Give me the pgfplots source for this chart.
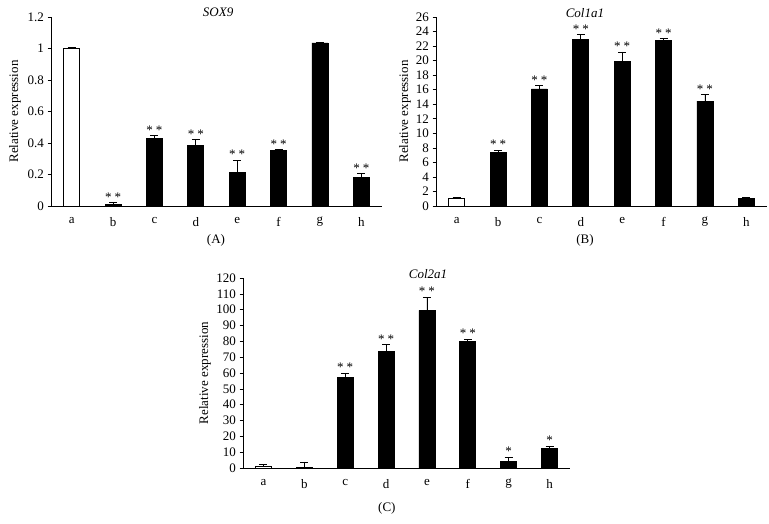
\documentclass[border=0pt]{standalone}
\usepackage{fontspec}
\setmainfont{Liberation Serif}
\usepackage{pgfplots}
\pgfplotsset{compat=1.18}

\pgfplotsset{
  panel/.style={
    scale only axis,
    axis x line*=bottom, axis y line*=left,
    axis line style={black, line width=0.6pt},
    xmin=-0.5, xmax=7.5, ymin=0,
    xtick={0,...,7}, xticklabels={a,b,c,d,e,f,g,h},
    x tick style={draw=none},
    minor xtick={0.5,1.5,...,6.5},
    minor x tick style={black, line width=0.6pt},
    y tick style={black, line width=0.6pt},
    tick align=outside, major tick length=3.5pt, minor tick length=3.5pt,
    ticklabel style={font=\fontsize{13}{15}\selectfont},
    xticklabel style={yshift=-4pt},
    /pgf/number format/assume math mode=true,
    label style={font=\fontsize{13}{15}\selectfont},
    ylabel={Relative expression},
    clip=false,
  },
  bars/.style={ybar, bar width=16pt, bar shift=0pt, draw=black, line width=0.7pt,
    error bars/y dir=plus, error bars/y explicit,
    error bars/error mark=|,
    error bars/error bar style={black, line width=0.8pt},
    error bars/error mark options={black, mark size=4pt, line width=0.8pt}},
  stars/.style={draw=none, mark=none, nodes near coords, point meta=explicit symbolic,
    nodes near coords style={anchor=base, inner sep=0pt, yshift=1.5pt,
      font=\fontsize{13}{15}\selectfont}},
}

\begin{document}
\begin{tikzpicture}
\useasboundingbox (0,0) rectangle (769pt,523pt);

% (A) SOX9
\begin{axis}[panel, at={(51pt,317pt)}, anchor=south west,
  width=331pt, height=189pt, ymax=1.2, ytick={0,0.2,...,1.2},
  ylabel style={at={(axis description cs:-0.109,0.5)}, anchor=center},
  xlabel={(A)}, xlabel style={at={(axis description cs:0.4985,-0.18)}, anchor=center}]
\addplot[bars, fill=white] coordinates {(0,1.00) +- (0,0.005)};
\addplot[bars, fill=black] coordinates {
  (1,0.010) +- (0,0.011) (2,0.429) +- (0,0.017) (3,0.382) +- (0,0.038)
  (4,0.215) +- (0,0.075) (5,0.355) +- (0,0.003) (6,1.035) +- (0,0.006)
  (7,0.184) +- (0,0.021)};
\addplot[stars] coordinates {
  (1,0.021) [*\hspace{3pt}*] (2,0.446) [*\hspace{3pt}*] (3,0.420) [*\hspace{3pt}*]
  (4,0.290) [*\hspace{3pt}*] (5,0.358) [*\hspace{3pt}*] (7,0.205) [*\hspace{3pt}*]};
\node[anchor=base, font=\itshape\fontsize{13}{15}\selectfont] at (axis description cs:0.505,1.0) {SOX9};
\end{axis}

% (B) Col1a1
\begin{axis}[panel, at={(436pt,317pt)}, anchor=south west,
  width=331pt, height=189pt, ymax=26, ytick={0,2,...,26},
  ylabel style={at={(axis description cs:-0.094,0.5)}, anchor=center},
  xlabel={(B)}, xlabel style={at={(axis description cs:0.45,-0.18)}, anchor=center}]
\addplot[bars, fill=white] coordinates {(0,1.05) +- (0,0.10)};
\addplot[bars, fill=black] coordinates {
  (1,7.32) +- (0,0.32) (2,16.10) +- (0,0.47) (3,22.90) +- (0,0.67)
  (4,19.86) +- (0,1.33) (5,22.75) +- (0,0.27) (6,14.42) +- (0,0.91)
  (7,1.00) +- (0,0.19)};
\addplot[stars] coordinates {
  (1,7.64) [*\hspace{3pt}*] (2,16.57) [*\hspace{3pt}*] (3,23.57) [*\hspace{3pt}*]
  (4,21.19) [*\hspace{3pt}*] (5,23.02) [*\hspace{3pt}*] (6,15.33) [*\hspace{3pt}*]};
\node[anchor=base, font=\itshape\fontsize{13}{15}\selectfont] at (axis description cs:0.45,1.0) {Col1a1};
\end{axis}

% (C) Col2a1
\begin{axis}[panel, at={(243pt,55pt)}, anchor=south west,
  width=327pt, height=190pt, ymax=120, ytick={0,10,...,120},
  ylabel style={at={(axis description cs:-0.116,0.5)}, anchor=center},
  xlabel={(C)}, xlabel style={at={(axis description cs:0.44,-0.21)}, anchor=center}]
\addplot[bars, fill=white] coordinates {(0,1.05) +- (0,1.05)};
\addplot[bars, fill=black] coordinates {
  (1,0.6) +- (0,3.2) (2,57.3) +- (0,2.5) (3,73.6) +- (0,4.4)
  (4,99.6) +- (0,8.4) (5,79.9) +- (0,1.3) (6,4.4) +- (0,2.5)
  (7,12.4) +- (0,1.2)};
\addplot[stars] coordinates {
  (2,59.8) [*\hspace{3pt}*] (3,78.0) [*\hspace{3pt}*] (4,108.0) [*\hspace{3pt}*]
  (5,81.2) [*\hspace{3pt}*] (6,6.9) [*] (7,13.6) [*]};
\node[anchor=base, font=\itshape\fontsize{13}{15}\selectfont] at (axis description cs:0.566,1.0) {Col2a1};
\end{axis}
\end{tikzpicture}
\end{document}
